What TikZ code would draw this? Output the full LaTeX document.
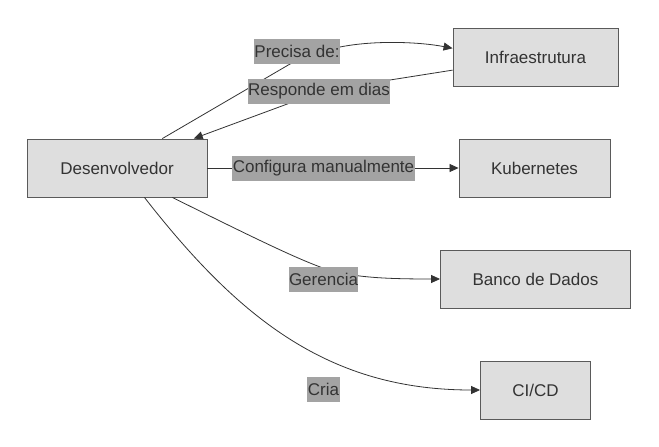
\documentclass[tikz,border=0pt]{standalone}
\usepackage{fontspec}
\setmainfont{Liberation Sans}
\usetikzlibrary{arrows.meta}
\definecolor{nodefill}{HTML}{DEDEDE}
\definecolor{nodeborder}{HTML}{5A5A5A}
\definecolor{txt}{HTML}{333333}
\definecolor{lblbg}{HTML}{A3A3A3}
\definecolor{edgec}{HTML}{333333}
\begin{document}
\begin{tikzpicture}[x=1pt,y=-1pt,
  box/.style={draw=nodeborder, fill=nodefill, line width=0.9pt, text=txt, minimum height=58pt, inner sep=0pt, font=\fontsize{17}{20}\selectfont},
  lbl/.style={fill=lblbg, text=txt, inner xsep=0.5pt, inner ysep=0pt, minimum height=25pt, font=\fontsize{17}{20}\selectfont},
  edge/.style={draw=edgec, line width=0.8pt},
  arr/.style={edge, -{Triangle[length=9pt,width=8pt]}}]
\useasboundingbox (0,0) rectangle (659,447);
\fill[white] (0,0) rectangle (659,447);
\node[box, minimum width=180pt] (dev) at (117,168) {Desenvolvedor};
\node[box, minimum width=165pt] (infra) at (535.5,57) {Infraestrutura};
\node[box, minimum width=151pt] (kube) at (534.5,168) {Kubernetes};
\node[box, minimum width=190pt] (db) at (535.5,279) {Banco de Dados};
\node[box, minimum width=110pt] (cicd) at (535.5,390) {CI/CD};
% edges
\draw[arr] (dev.33) -- (290,64) -- (340,47) .. controls (375,40) and (420,42) .. (infra.174);
\draw[arr] (infra.189) -- (390,80) -- (290,103) -- (dev.21);
\draw[arr] (dev.east) -- (kube.west);
\draw[arr] (dev.-28) .. controls (250,236) and (295,258) .. (323,268) .. controls (350,277) and (380,279) .. (db.west);
\draw[arr] (dev.-47) .. controls (240,320) and (330,390) .. (cicd.west);
% labels
\node[lbl] (l1) at (297,51) {Precisa de:};
\node[lbl] (l2) at (319,91) {Responde em dias};
\node[lbl] (l3) at (323.5,168.5) {Configura manualmente};
\node[lbl] (l4) at (323.5,279) {Gerencia};
\node[lbl] (l5) at (323.5,389.5) {Cria};
\end{tikzpicture}
\end{document}
